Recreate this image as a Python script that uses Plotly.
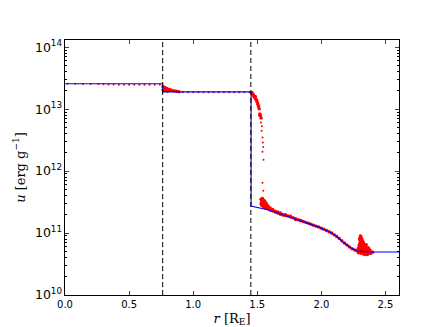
import plotly.graph_objs as go

# analytic solution (blue line)
line_r = [0.0, 0.762, 0.762, 1.452, 1.452, 1.58, 1.71, 1.84, 1.97, 2.06, 2.12, 2.17, 2.23, 2.28, 2.38, 2.61]
line_u = [2.58e13, 2.58e13, 1.9e13, 1.9e13, 2.73e11, 2.38e11, 1.94e11, 1.58e11, 1.27e11, 1.06e11,
          8.85e10, 7.1e10, 5.78e10, 5.13e10, 4.94e10, 4.94e10]

# simulation particles (red points)
plateau1_r = [0.02, 0.08, 0.14, 0.20, 0.26, 0.30, 0.34, 0.38, 0.42, 0.46, 0.50, 0.54, 0.58, 0.62, 0.66, 0.70, 0.74]
plateau1_u = [2.57e13, 2.57e13, 2.56e13, 2.56e13, 2.55e13, 2.52e13, 2.5e13, 2.5e13, 2.49e13, 2.49e13,
              2.49e13, 2.49e13, 2.49e13, 2.49e13, 2.48e13, 2.48e13, 2.48e13]

plateau2_r = [0.92, 0.96, 1.00, 1.04, 1.08, 1.12, 1.16, 1.20, 1.24, 1.28, 1.32, 1.36, 1.40, 1.44]
plateau2_u = [1.87e13, 1.87e13, 1.87e13, 1.87e13, 1.87e13, 1.87e13, 1.87e13, 1.87e13, 1.87e13,
              1.87e13, 1.87e13, 1.87e13, 1.87e13, 1.87e13]

sparse_r = [1.529, 1.534, 1.541, 1.547, 1.541, 1.549, 1.541, 1.547, 1.536, 1.544]
sparse_u = [6.1e12, 4.5e12, 3.5e12, 2.46e12, 2.05e12, 1.52e12, 6.5e11, 4.8e11, 5.3e12, 2.9e12]

step1_r = [0.765, 0.765, 0.77, 0.77, 0.775, 0.78, 0.78, 0.785, 0.79, 0.79, 0.80, 0.80, 0.81, 0.82, 0.83, 0.85, 0.87, 0.89]
step1_u = [2.3e13, 2.05e13, 2.25e13, 2.1e13, 2.2e13, 2.22e13, 2.05e13, 2.15e13, 2.18e13, 2.0e13,
           2.12e13, 1.97e13, 2.08e13, 2.05e13, 2.02e13, 1.98e13, 1.95e13, 1.92e13]

shock_r = [1.46, 1.465, 1.47, 1.475, 1.48, 1.485, 1.49, 1.495, 1.50, 1.505, 1.51, 1.515, 1.52, 1.525, 1.53, 1.52]
shock_u = [1.85e13, 1.75e13, 1.7e13, 1.62e13, 1.55e13, 1.6e13, 1.45e13, 1.38e13, 1.3e13, 1.2e13, 1.1e13, 1.02e13,
           8.4e12, 7.8e12, 7.2e12, 8.0e12]

cluster_r = [1.53, 1.535, 1.54, 1.545, 1.55, 1.555, 1.56, 1.565, 1.57, 1.575, 1.58, 1.585, 1.59,
             1.535, 1.545, 1.555, 1.565, 1.575, 1.53, 1.54, 1.55, 1.56, 1.545, 1.555, 1.57, 1.58, 1.595, 1.6]
cluster_u = [3.5e11, 3.3e11, 3.6e11, 3.2e11, 3.4e11, 3.0e11, 3.2e11, 2.9e11, 3.0e11, 2.8e11, 2.75e11, 2.65e11, 2.6e11,
             2.8e11, 2.7e11, 2.6e11, 2.55e11, 2.5e11, 3.0e11, 2.9e11, 2.75e11, 2.85e11, 3.05e11, 3.3e11, 2.65e11,
             2.5e11, 2.45e11, 2.55e11]

tail_r = [1.60, 1.60, 1.62, 1.62, 1.64, 1.64, 1.66, 1.66, 1.68, 1.68, 1.70, 1.70, 1.72, 1.72, 1.74, 1.76, 1.76,
          1.78, 1.80, 1.80, 1.82, 1.84, 1.84, 1.86, 1.88, 1.90, 1.92, 1.94, 1.96, 1.98, 2.00, 2.02, 2.04,
          2.06, 2.08, 2.10, 2.12, 2.14, 2.16, 2.18, 2.20, 2.22, 2.24, 2.26, 2.28]
tail_u = [2.35e11, 2.45e11, 2.30e11, 2.4e11, 2.25e11, 2.18e11, 2.18e11, 2.1e11, 2.1e11, 2.02e11, 2.0e11, 1.95e11,
          1.92e11, 1.98e11, 1.88e11, 1.82e11, 1.86e11, 1.76e11, 1.70e11, 1.66e11, 1.64e11, 1.58e11, 1.6e11,
          1.53e11, 1.48e11, 1.44e11, 1.39e11, 1.34e11, 1.29e11, 1.25e11, 1.2e11, 1.15e11, 1.1e11, 1.05e11,
          1.0e11, 9.4e10, 8.8e10, 8.2e10, 7.5e10, 6.9e10, 6.4e10, 5.95e10, 5.6e10, 5.35e10, 5.2e10]

blob_r = [2.305, 2.31, 2.30, 2.315, 2.305, 2.32, 2.31, 2.325, 2.30, 2.33, 2.32, 2.34, 2.295, 2.31, 2.33, 2.35,
          2.29, 2.30, 2.32, 2.34, 2.36, 2.28, 2.30, 2.32, 2.34, 2.36, 2.38, 2.29, 2.31, 2.33, 2.35, 2.37, 2.39,
          2.34, 2.36, 2.40, 2.37, 2.38, 2.35, 2.31, 2.30, 2.32, 2.335, 2.345, 2.355, 2.37, 2.385, 2.33, 2.31,
          2.29, 2.35, 2.32, 2.365, 2.34]
blob_u = [9.0e10, 8.6e10, 8.2e10, 8.0e10, 7.6e10, 7.5e10, 7.0e10, 7.2e10, 6.8e10, 6.8e10, 6.4e10, 6.2e10, 6.3e10,
          6.0e10, 5.9e10, 5.8e10, 5.7e10, 5.5e10, 5.5e10, 5.4e10, 5.4e10, 5.2e10, 5.1e10, 5.0e10, 5.0e10, 5.0e10,
          5.0e10, 4.8e10, 4.7e10, 4.6e10, 4.6e10, 4.7e10, 4.8e10, 4.5e10, 4.5e10, 4.9e10, 5.6e10, 5.3e10,
          6.5e10, 6.5e10, 7.8e10, 6.9e10, 6.5e10, 5.6e10, 5.2e10, 5.1e10, 4.7e10, 5.2e10, 5.3e10, 5.3e10,
          4.8e10, 4.8e10, 5.8e10, 5.7e10]

# shock / interface positions (dashed lines)
interface_r = [0.762, 1.45]

x_ticks = [0.0, 0.5, 1.0, 1.5, 2.0, 2.5]


def generate_chart() -> go.Figure:

    fig = go.Figure()

    # thin, scattered particles
    fig.add_scatter(x=plateau1_r + plateau2_r + sparse_r, y=plateau1_u + plateau2_u + sparse_u, mode="markers",
                    marker=dict(color="#ff0000", size=2, line=dict(width=0)), showlegend=False)
    # dense particle clouds
    dense_r = step1_r + shock_r + cluster_r + tail_r + blob_r
    dense_u = step1_u + shock_u + cluster_u + tail_u + blob_u
    fig.add_scatter(x=dense_r, y=dense_u, mode="markers", marker=dict(color="#ff0000", size=3.5, line=dict(width=0)),
                    showlegend=False)
    fig.add_scatter(x=line_r, y=line_u, mode="lines", line=dict(color="#0000ff", width=1.1), showlegend=False)

    for r in interface_r:
        fig.add_vline(x=r, line=dict(color="black", width=1, dash="5px,3px"))

    fig.update_layout(
        width=436,
        height=327,
        margin=dict(l=54, r=45, t=32, b=34),
        paper_bgcolor="white",
        plot_bgcolor="white",
        font=dict(family="DejaVu Sans", size=10, color="black"),
    )
    fig.update_xaxes(
        range=[0, 2.606],
        tickvals=x_ticks,
        tickformat=".1f",
        ticks="inside",
        ticklen=4,
        showline=True,
        linecolor="black",
        linewidth=1,
        mirror="ticks",
        showgrid=False,
        zeroline=False,
        title=dict(text="<i>r</i> [R<sub>E</sub>]", font=dict(family="DejaVu Serif", size=13), standoff=4),
    )
    fig.update_yaxes(
        type="log",
        range=[10, 14.117],
        dtick=1,
        exponentformat="power",
        ticks="inside",
        ticklen=4,
        minor=dict(ticks="inside", ticklen=2, dtick="D1", tickcolor="black", showgrid=False),
        showline=True,
        linecolor="black",
        linewidth=1,
        mirror="ticks",
        showgrid=False,
        zeroline=False,
        title=dict(text="<i>u</i> [erg g<sup>−1</sup>]", font=dict(family="DejaVu Serif", size=13), standoff=6),
    )
    return fig


fig = generate_chart()
fig.write_html("out.html")
